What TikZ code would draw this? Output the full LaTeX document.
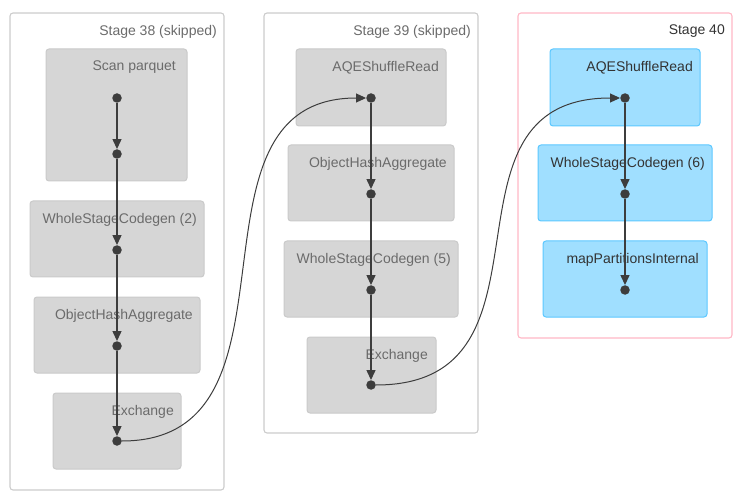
\documentclass[tikz,border=0pt]{standalone}
\usepackage{fontspec}
\setmainfont{Liberation Sans}
\usetikzlibrary{arrows.meta}

\definecolor{clustergray}{HTML}{CCCCCC}
\definecolor{clusterpink}{HTML}{FFB8C6}
\definecolor{skipfill}{HTML}{D6D6D6}
\definecolor{skipline}{HTML}{CACACA}
\definecolor{livefill}{HTML}{A0DFFF}
\definecolor{liveline}{HTML}{5CC8FF}
\definecolor{skiptext}{HTML}{6B6B6B}
\definecolor{livetext}{HTML}{333333}
\definecolor{edgecol}{HTML}{3D3D3D}

\begin{document}
\begin{tikzpicture}[x=1pt,y=-1pt,
    cluster/.style={draw=clustergray, fill=white, rounded corners=3pt, line width=1.1pt},
    skipbox/.style={draw=skipline, fill=skipfill, rounded corners=3pt, line width=1pt},
    livebox/.style={draw=liveline, fill=livefill, rounded corners=3pt, line width=1pt},
    lbl/.style={anchor=east, inner sep=0pt, yshift=-1.5pt, text=skiptext, font=\fontsize{14}{16}\selectfont},
    dot/.style={circle, fill=edgecol, inner sep=0pt, minimum size=9.5pt},
    edge/.style={draw=edgecol, line width=1.3pt, -{Triangle[length=10pt,width=9pt]}}]
    \useasboundingbox (0,0) rectangle (756,500);

    % stage frames
    \draw[cluster] (10,13) rectangle (224,490);
    \draw[cluster] (264,13) rectangle (478,433);
    \draw[cluster, draw=clusterpink] (518,13) rectangle (732,338);
    \node[lbl] (st38) at (217,30) {Stage 38 (skipped)};
    \node[lbl] (st39) at (471,30) {Stage 39 (skipped)};
    \node[lbl, text=livetext] (st40) at (725,30) {Stage 40};

    % Stage 38
    \draw[skipbox] (46,49) rectangle (187,181);
    \draw[skipbox] (30,201) rectangle (204,277);
    \draw[skipbox] (34,297) rectangle (200,373);
    \draw[skipbox] (53,393) rectangle (181,469);
    \node[lbl] (scan) at (176,66) {Scan parquet};
    \node[lbl] (wsc2) at (197,218) {WholeStageCodegen (2)};
    \node[lbl] (oha38) at (193,314) {ObjectHashAggregate};
    \node[lbl] (ex38) at (174,410) {Exchange};

    % Stage 39
    \draw[skipbox] (296,49) rectangle (446,126);
    \draw[skipbox] (288,145) rectangle (454,221);
    \draw[skipbox] (284,241) rectangle (458,317);
    \draw[skipbox] (307,337) rectangle (436,413);
    \node[lbl] (aqe39) at (439,66) {AQEShuffleRead};
    \node[lbl] (oha39) at (447,162) {ObjectHashAggregate};
    \node[lbl] (wsc5) at (451,258) {WholeStageCodegen (5)};
    \node[lbl] (ex39) at (428,354) {Exchange};

    % Stage 40
    \draw[livebox] (550,49) rectangle (700,126);
    \draw[livebox] (538,145) rectangle (712,221);
    \draw[livebox] (543,241) rectangle (707,317);
    \node[lbl, text=livetext] (aqe40) at (693,66) {AQEShuffleRead};
    \node[lbl, text=livetext] (wsc6) at (705,162) {WholeStageCodegen (6)};
    \node[lbl, text=livetext] (mpi) at (699,258) {mapPartitionsInternal};

    % dots
    \node[dot] (d1) at (117,98) {};
    \node[dot] (d2) at (117,154) {};
    \node[dot] (d3) at (117,250) {};
    \node[dot] (d4) at (117,346) {};
    \node[dot] (d5) at (117,441) {};
    \node[dot] (e1) at (371,98) {};
    \node[dot] (e2) at (371,194) {};
    \node[dot] (e3) at (371,290) {};
    \node[dot] (e4) at (371,385) {};
    \node[dot] (f1) at (625,98) {};
    \node[dot] (f2) at (625,194) {};
    \node[dot] (f3) at (625,290) {};

    % edges
    \foreach \a/\b in {d1/d2,d2/d3,d3/d4,d4/d5,e1/e2,e2/e3,e3/e4,f1/f2,f2/f3}
        \draw[edge] (\a) -- (\b);
    \draw[edge, line width=1pt] (d5) .. controls +(200,0) and +(-200,0) .. (e1);
    \draw[edge, line width=1pt] (e4) .. controls +(200,0) and +(-200,0) .. (f1);

\end{tikzpicture}
\end{document}
